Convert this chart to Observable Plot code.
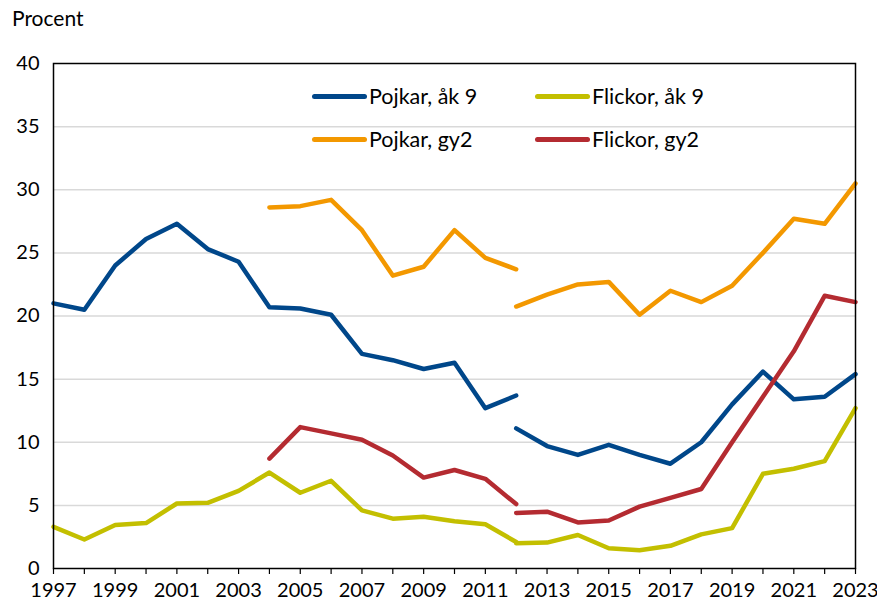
<!DOCTYPE html>
<html>
<head>
<meta charset="utf-8">
<script src="https://cdn.jsdelivr.net/npm/d3@7"></script>
<script src="https://cdn.jsdelivr.net/npm/@observablehq/plot@0.6"></script>
<style>
  html, body { margin: 0; padding: 0; background: #fff; }
  #wrap { position: relative; width: 877px; height: 608px; font-family: Lato, "Open Sans", sans-serif; }
  #ylab { position: absolute; left: 12px; top: 5px; font-size: 21px; color: #000; }
  .leg { position: absolute; display: flex; align-items: center; font-size: 21.5px; color: #000; }
  .leg span.sw { display: inline-block; width: 55px; height: 5px; border-radius: 3px; margin-right: 2px; }
  svg { position: absolute; left: 0; top: 0; }
</style>
</head>
<body>
<div id="wrap">
  <div id="ylab">Procent</div>
</div>
<script>
// Years
const yearsA = [1997,1998,1999,2000,2001,2002,2003,2004,2005,2006,2007,2008,2009,2010,2011,2012];
const yearsB = [2012,2013,2014,2015,2016,2017,2018,2019,2020,2021,2022,2023];
const yearsGyA = [2004,2005,2006,2007,2008,2009,2010,2011,2012];

// Series names and colours
const seriesNames = ["Pojkar, åk 9", "Flickor, åk 9", "Pojkar, gy2", "Flickor, gy2"];
const seriesColors = ["#00478a", "#c3bf00", "#f39800", "#b42b31"];

// Pojkar, åk 9
const pojkarAk9A = [21.0,20.5,24.0,26.1,27.3,25.3,24.3,20.7,20.6,20.1,17.0,16.5,15.8,16.3,12.7,13.7];
const pojkarAk9B = [11.1,9.7,9.0,9.8,9.0,8.3,10.0,13.0,15.6,13.4,13.6,15.4];
// Flickor, åk 9
const flickorAk9A = [3.3,2.3,3.45,3.6,5.15,5.2,6.15,7.6,6.0,6.95,4.6,3.95,4.1,3.75,3.5,2.1];
const flickorAk9B = [2.0,2.05,2.65,1.6,1.45,1.8,2.7,3.2,7.5,7.9,8.5,12.7];
// Pojkar, gy2
const pojkarGy2A = [28.6,28.7,29.2,26.8,23.2,23.9,26.8,24.6,23.7];
const pojkarGy2B = [20.75,21.7,22.5,22.7,20.1,22.0,21.1,22.4,25.0,27.7,27.3,30.5];
// Flickor, gy2
const flickorGy2A = [8.7,11.2,10.7,10.2,8.95,7.2,7.8,7.1,5.1];
const flickorGy2B = [4.4,4.5,3.65,3.8,4.9,5.6,6.3,10.0,13.6,17.2,21.6,21.1];

// Axis ticks
const yTicks = [0,5,10,15,20,25,30,35,40];
const xTickYears = d3.range(1997, 2024);
const xLabelYears = d3.range(1997, 2024, 2);

function seg(series, segment, years, values) {
  return years.map((year, i) => ({series, seg: series + segment, year, value: values[i]}));
}
const rows = [
  ...seg(seriesNames[0], "A", yearsA, pojkarAk9A),
  ...seg(seriesNames[0], "B", yearsB, pojkarAk9B),
  ...seg(seriesNames[1], "A", yearsA, flickorAk9A),
  ...seg(seriesNames[1], "B", yearsB, flickorAk9B),
  ...seg(seriesNames[2], "A", yearsGyA, pojkarGy2A),
  ...seg(seriesNames[2], "B", yearsB, pojkarGy2B),
  ...seg(seriesNames[3], "A", yearsGyA, flickorGy2A),
  ...seg(seriesNames[3], "B", yearsB, flickorGy2B)
];

const chart = Plot.plot({
  width: 877,
  height: 608,
  marginLeft: 53,
  marginRight: 22,
  marginTop: 63,
  marginBottom: 40,
  style: {fontFamily: "Lato, 'Open Sans', sans-serif", fontSize: "20px", color: "#000", background: "transparent"},
  x: {domain: [1997, 2023]},
  y: {domain: [0, 40]},
  color: {domain: seriesNames, range: seriesColors},
  marks: [
    Plot.gridY(yTicks.filter(d => d > 0 && d < 40), {stroke: "#d9d9d9", strokeOpacity: 1, strokeWidth: 1.5}),
    Plot.axisY({ticks: yTicks, tickSize: 0, tickPadding: 14, label: null, fontSize: 20}),
    Plot.axisX({ticks: xTickYears, tickSize: 6, tickPadding: 8, label: null, fontSize: 20, stroke: "#000", strokeWidth: 1.2,
      tickFormat: d => xLabelYears.includes(d) ? String(d) : ""}),
    Plot.line(rows, {x: "year", y: "value", z: "seg", stroke: "series", strokeWidth: 4.5, strokeLinecap: "round", strokeLinejoin: "round"}),
    Plot.frame({stroke: "#000", strokeWidth: 1.5})
  ]
});
const wrap = document.getElementById("wrap");
wrap.insertBefore(chart, wrap.firstChild);

// Legend
const legPos = [[312, 97], [535, 97], [312, 140], [535, 140]];
seriesNames.forEach((name, i) => {
  const d = document.createElement("div");
  d.className = "leg";
  d.style.left = legPos[i][0] + "px";
  d.style.top = (legPos[i][1] - 14) + "px";
  d.innerHTML = `<span class="sw" style="background:${seriesColors[i]}"></span>${name}`;
  wrap.appendChild(d);
});
</script>
</body>
</html>
